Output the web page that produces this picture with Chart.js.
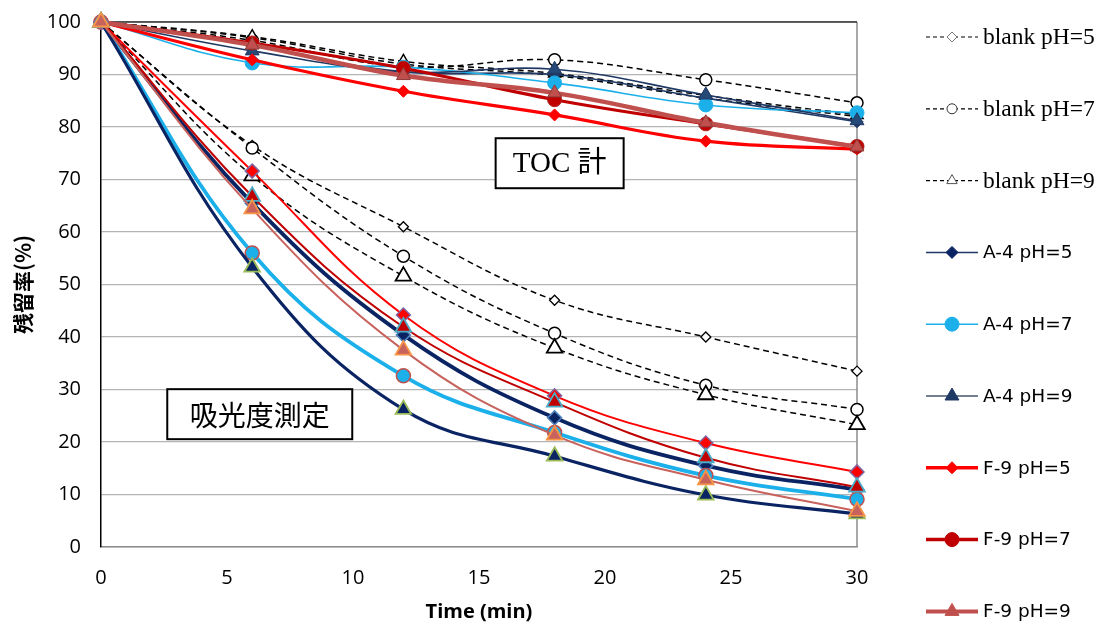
<!DOCTYPE html>
<html>
<head>
<meta charset="utf-8">
<script src="https://cdn.jsdelivr.net/npm/chart.js@4.4.1/dist/chart.umd.min.js"></script>
<style>
  html, body { margin: 0; padding: 0; background: #fff; }
  #wrap { width: 1098px; height: 625px; position: relative; }
</style>
</head>
<body>
<div id="wrap"><canvas id="c" width="1098" height="625"></canvas></div>
<script>
// ---------- DATA ----------
const times = [0, 6, 12, 18, 24, 30];
const xTicks = [0, 5, 10, 15, 20, 25, 30];
const yTicks = [0, 10, 20, 30, 40, 50, 60, 70, 80, 90, 100];
const seriesNames = ["blank pH=5", "blank pH=7", "blank pH=9", "A-4 pH=5", "A-4 pH=7", "A-4 pH=9", "F-9 pH=5", "F-9 pH=7", "F-9 pH=9"];

// TOC 計 (upper group)
const tocBlank5 = [100, 97.0, 92.0, 89.8, 85.5, 82.0];
const tocBlank7 = [100, 96.5, 91.5, 92.8, 89.0, 84.6];
const tocBlank9 = [100, 97.2, 92.5, 90.2, 86.0, 82.3];
const tocA4pH5  = [100, 95.5, 90.5, 90.0, 85.5, 81.0];
const tocA4pH7  = [100, 92.2, 91.4, 88.4, 84.2, 82.7];
const tocA4pH9  = [100, 94.5, 90.5, 91.0, 86.1, 81.2];
const tocF9pH5  = [100, 92.8, 86.8, 82.3, 77.3, 75.8];
const tocF9pH7  = [100, 96.0, 91.2, 85.2, 80.6, 76.3];
const tocF9pH9  = [100, 95.6, 89.8, 86.5, 80.8, 76.2];

// 吸光度測定 (lower group)
const absBlank5 = [100, 76.5, 61.0, 47.0, 40.0, 33.5];
const absBlank7 = [100, 76.0, 55.4, 40.7, 30.8, 26.2];
const absBlank9 = [100, 70.7, 51.6, 37.9, 29.0, 23.3];
const absA4pH5  = [100, 65.5, 40.4, 24.6, 15.5, 10.9];
const absA4pH7  = [100, 56.0, 32.6, 21.8, 13.6, 9.1];
const absA4pH9  = [100, 53.3, 26.2, 17.3, 9.9, 6.3];
const absF9pH5  = [100, 71.6, 44.2, 28.8, 19.8, 14.3];
const absF9pH7  = [100, 66.8, 41.9, 27.6, 17.0, 11.4];
const absF9pH9  = [100, 64.4, 37.5, 21.3, 12.8, 6.8];

// ---------- STYLES ----------
const tocValues = [tocBlank5, tocBlank7, tocBlank9, tocA4pH5, tocA4pH7, tocA4pH9, tocF9pH5, tocF9pH7, tocF9pH9];
const absValues = [absBlank5, absBlank7, absBlank9, absA4pH5, absA4pH7, absA4pH9, absF9pH5, absF9pH7, absF9pH9];

const tocStyle = [
  {c:'#000', w:1.5, dash:[6,4], pt:'rectRot', r:5, fill:'#fff', bc:'#000', bw:1.3},
  {c:'#000', w:1.5, dash:[6,4], pt:'circle', r:6, fill:'#fff', bc:'#000', bw:1.5},
  {c:'#000', w:1.5, dash:[6,4], pt:'triangle', r:7, fill:'#fff', bc:'#000', bw:1.5},
  {c:'#1f3864', w:1.6, dash:[], pt:'rectRot', r:6, fill:'#1f3864', bc:'#1f3864', bw:1},
  {c:'#1cb0ea', w:1.6, dash:[], pt:'circle', r:7, fill:'#1cb0ea', bc:'#1cb0ea', bw:1},
  {c:'#203864', w:1.6, dash:[], pt:'triangle', r:8, fill:'#254a78', bc:'#203864', bw:1},
  {c:'#ff0000', w:3.2, dash:[], pt:'rectRot', r:6, fill:'#ff0000', bc:'#ff0000', bw:1},
  {c:'#c00000', w:3.2, dash:[], pt:'circle', r:7, fill:'#c00000', bc:'#b02020', bw:1},
  {c:'#c0504d', w:4.5, dash:[], pt:'triangle', r:8, fill:'#c0504d', bc:'#8c3a38', bw:1}
];
const absStyle = [
  {c:'#000', w:1.5, dash:[6,4], pt:'rectRot', r:5, fill:'#fff', bc:'#000', bw:1.3},
  {c:'#000', w:1.5, dash:[6,4], pt:'circle', r:6, fill:'#fff', bc:'#000', bw:1.5},
  {c:'#000', w:1.5, dash:[6,4], pt:'triangle', r:9, fill:'#fff', bc:'#000', bw:1.8},
  {c:'#0a2463', w:3.8, dash:[], pt:'rectRot', r:7, fill:'#0a2463', bc:'#4f81bd', bw:1.5},
  {c:'#1cb0ea', w:3.8, dash:[], pt:'circle', r:7, fill:'#1cb0ea', bc:'#c0504d', bw:1.5},
  {c:'#0a2463', w:3.2, dash:[], pt:'triangle', r:9, fill:'#0a2463', bc:'#9bbb59', bw:1.8},
  {c:'#ff0000', w:2, dash:[], pt:'rectRot', r:7, fill:'#ff0000', bc:'#8064a2', bw:1.5},
  {c:'#c00000', w:2, dash:[], pt:'triangle', r:9, fill:'#c00000', bc:'#4bacc6', bw:1.8},
  {c:'#c8625d', w:2, dash:[], pt:'triangle', r:9, fill:'#c8625d', bc:'#f79646', bw:1.8}
];
const SERIF = '23.5px "Liberation Serif", serif';
const SANS = '18.5px "DejaVu Sans", sans-serif';
const legendStyle = [
  {c:'#000', w:1.2, dash:[4,3], pt:'rectRot', r:5, fill:'#fff', bc:'#777', bw:1, font:SERIF},
  {c:'#000', w:1.2, dash:[4,3], pt:'circle', r:5, fill:'#fff', bc:'#333', bw:1, font:SERIF},
  {c:'#000', w:1.2, dash:[4,3], pt:'triangle', r:6, fill:'#fff', bc:'#555', bw:1, font:SERIF},
  {c:'#1f3864', w:1.5, dash:[], pt:'rectRot', r:6, fill:'#0a2463', bc:'#0a2463', bw:1, font:SANS},
  {c:'#1cb0ea', w:1.5, dash:[], pt:'circle', r:7, fill:'#1cb0ea', bc:'#1cb0ea', bw:1, font:SANS},
  {c:'#44546a', w:1.5, dash:[], pt:'triangle', r:8, fill:'#1f3864', bc:'#1f3864', bw:1, font:SANS},
  {c:'#ff0000', w:3.5, dash:[], pt:'rectRot', r:6, fill:'#ff0000', bc:'#ff0000', bw:1, font:SANS},
  {c:'#c00000', w:3.5, dash:[], pt:'circle', r:7, fill:'#c00000', bc:'#c00000', bw:1, font:SANS},
  {c:'#c0504d', w:4, dash:[], pt:'triangle', r:8, fill:'#c0504d', bc:'#c0504d', bw:1, font:SANS}
];

function mk(label, vals, s) {
  return {
    label: label,
    data: times.map((t, i) => ({x: t, y: vals[i]})),
    borderColor: s.c, borderWidth: s.w, borderDash: s.dash,
    pointStyle: s.pt, pointRadius: s.r, pointBackgroundColor: s.fill,
    pointBorderColor: s.bc, pointBorderWidth: s.bw,
    pointHoverRadius: s.r,
    tension: 0.4, fill: false, clip: false
  };
}
const datasets = [];
seriesNames.forEach((n, i) => datasets.push(mk(n, tocValues[i], tocStyle[i])));
seriesNames.forEach((n, i) => datasets.push(mk(n, absValues[i], absStyle[i])));
datasets.reverse(); // later-listed series drawn on top

// ---------- PLUGINS ----------
const framePlugin = {
  id: 'frame',
  beforeDatasetsDraw(chart) {
    const {ctx, chartArea: a} = chart;
    ctx.save();
    ctx.strokeStyle = '#8c8c8c'; ctx.lineWidth = 1.5;
    ctx.beginPath(); ctx.moveTo(a.right, a.top); ctx.lineTo(a.right, a.bottom); ctx.stroke();
    ctx.strokeStyle = '#333'; ctx.lineWidth = 1.5;
    ctx.beginPath(); ctx.moveTo(a.left, a.top); ctx.lineTo(a.right, a.top); ctx.stroke();
    ctx.restore();
  }
};

function drawMarker(ctx, s, x, y) {
  Chart.helpers.drawPoint(ctx, {pointStyle: s.pt, radius: s.r, borderWidth: s.bw, rotation: 0}, x, y);
}

const legendPlugin = {
  id: 'customLegend',
  afterDraw(chart) {
    const {ctx} = chart;
    ctx.save();
    seriesNames.forEach((name, i) => {
      const s = legendStyle[i];
      const y = 37 + i * 71.8;
      ctx.strokeStyle = s.c; ctx.lineWidth = s.w; ctx.setLineDash(s.dash);
      ctx.beginPath(); ctx.moveTo(926, y); ctx.lineTo(978, y); ctx.stroke();
      ctx.setLineDash([]);
      ctx.fillStyle = s.fill; ctx.strokeStyle = s.bc; ctx.lineWidth = s.bw;
      drawMarker(ctx, s, 952, y);
      ctx.fillStyle = '#000'; ctx.font = s.font; ctx.textBaseline = 'middle'; ctx.textAlign = 'left';
      ctx.fillText(name, 983, y + 1);
    });
    ctx.restore();
  }
};

const labelPlugin = {
  id: 'boxes',
  afterDraw(chart) {
    const {ctx} = chart;
    const xs = chart.scales.x, ys = chart.scales.y;
    function box(text, cxv, cyv, w, h, font) {
      const cx = xs.getPixelForValue(cxv), cy = ys.getPixelForValue(cyv);
      ctx.save();
      ctx.fillStyle = '#fff';
      ctx.fillRect(cx - w/2, cy - h/2, w, h);
      ctx.strokeStyle = '#000'; ctx.lineWidth = 2;
      ctx.strokeRect(cx - w/2, cy - h/2, w, h);
      ctx.fillStyle = '#000'; ctx.font = font;
      ctx.textAlign = 'center'; ctx.textBaseline = 'middle';
      ctx.fillText(text, cx, cy + 1);
      ctx.restore();
    }
    box('TOC 計', 18.2, 73.1, 128, 50, '29px "Liberation Serif", "Noto Sans CJK JP", serif');
    box('吸光度測定', 6.3, 25.3, 185, 50, '28px "Noto Sans CJK JP", sans-serif');
  }
};

// ---------- CHART ----------
new Chart(document.getElementById('c'), {
  type: 'line',
  data: { datasets: datasets },
  options: {
    responsive: false, animation: false,
    layout: { padding: { top: 22, right: 241, left: 0, bottom: 0 } },
    plugins: { legend: { display: false }, tooltip: { enabled: false } },
    scales: {
      x: {
        type: 'linear', min: 0, max: 30,
        afterBuildTicks: (s) => { s.ticks = xTicks.map(v => ({value: v})); },
        grid: { display: false, drawTicks: false },
        border: { display: true, color: '#8c8c8c', width: 1.5 },
        ticks: { color: '#000', font: { size: 20, family: '"Open Sans", sans-serif' }, padding: 19, maxRotation: 0 },
        title: { display: true, text: 'Time (min)', color: '#000', font: { size: 20, weight: 'bold', family: '"Open Sans", sans-serif' }, padding: { top: 0, bottom: 1 } },
        afterFit: (s) => { s.height = 78; s.paddingLeft = 0; s.paddingRight = 0; }
      },
      y: {
        min: 0, max: 100,
        afterBuildTicks: (s) => { s.ticks = yTicks.map(v => ({value: v})); },
        grid: { color: '#b4b4b4', lineWidth: 1.3, drawTicks: false },
        border: { display: true, color: '#000', width: 1.5 },
        ticks: { color: '#000', font: { size: 20, family: '"Open Sans", sans-serif' }, padding: 20 },
        title: { display: true, text: '残留率(%)', color: '#000', font: { size: 21, weight: 'bold', family: '"Noto Sans CJK JP", sans-serif' }, padding: { top: 10, bottom: 0 } },
        afterFit: (s) => { s.width = 101; s.paddingTop = 0; s.paddingBottom = 0; }
      }
    }
  },
  plugins: [framePlugin, labelPlugin, legendPlugin]
});
</script>
</body>
</html>
